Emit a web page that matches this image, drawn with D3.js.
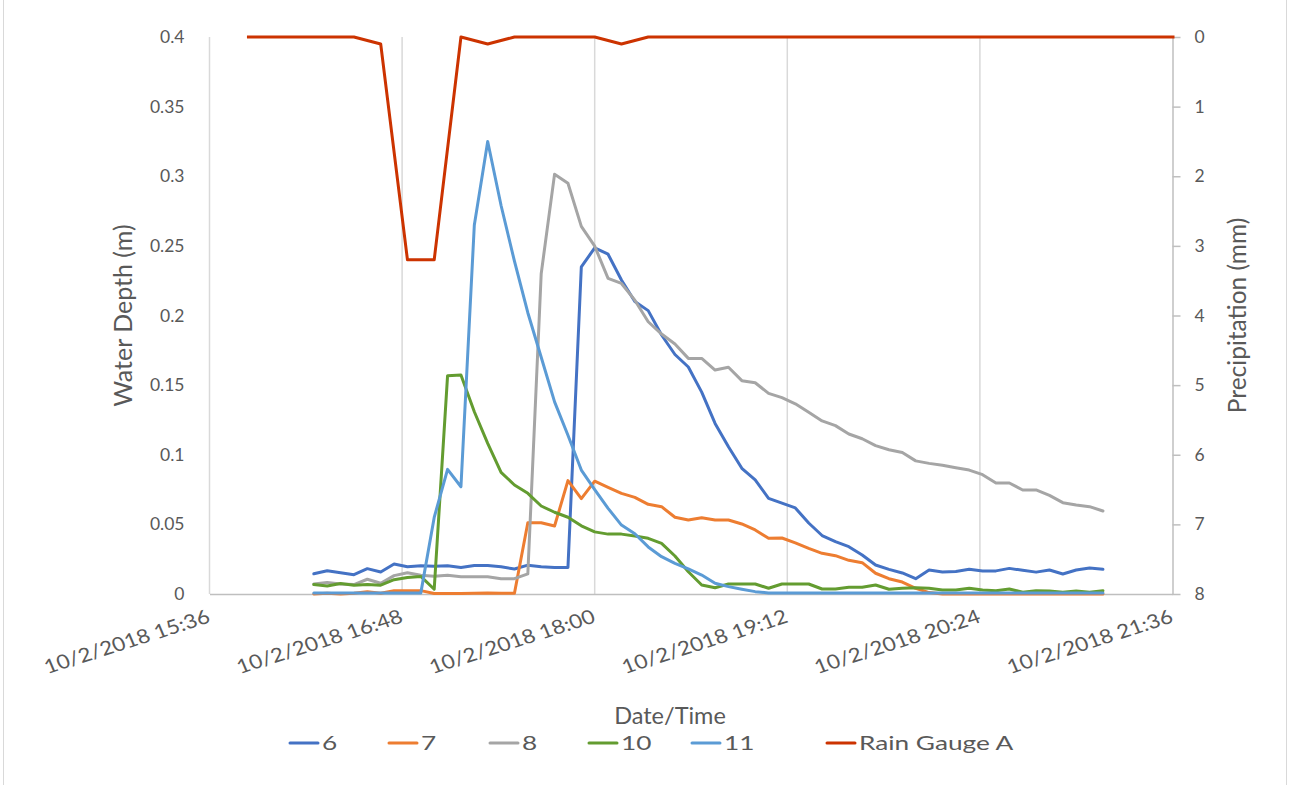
<!DOCTYPE html>
<html>
<head>
<meta charset="utf-8">
<script src="https://cdn.jsdelivr.net/npm/d3@7"></script>
<style>
  html, body { margin: 0; padding: 0; background: #ffffff; }
  svg { display: block; font-family: Lato, "Open Sans", sans-serif; }
</style>
</head>
<body>
<svg id="chart" width="1289" height="785"></svg>
<script>
// ---- data ----------------------------------------------------------------
const day = "2018-10-02";

// water level loggers, 5-minute readings
const depthTimes = [
  "16:15","16:20","16:25","16:30","16:35","16:40","16:45","16:50","16:55","17:00",
  "17:05","17:10","17:15","17:20","17:25","17:30","17:35","17:40","17:45","17:50",
  "17:55","18:00","18:05","18:10","18:15","18:20","18:25","18:30","18:35","18:40",
  "18:45","18:50","18:55","19:00","19:05","19:10","19:15","19:20","19:25","19:30",
  "19:35","19:40","19:45","19:50","19:55","20:00","20:05","20:10","20:15","20:20",
  "20:25","20:30","20:35","20:40","20:45","20:50","20:55","21:00","21:05","21:10"
];

const depth6 = [
  0.0145,0.0167,0.0153,0.0139,0.0182,0.0158,0.0215,0.0196,0.0203,0.0200,
  0.0203,0.0190,0.0205,0.0204,0.0195,0.0180,0.0207,0.0196,0.0190,0.0190,
  0.2350,0.2485,0.2440,0.2255,0.2100,0.2035,0.1860,0.1720,0.1630,0.1450,
  0.1225,0.1058,0.0903,0.0819,0.0687,0.0653,0.0618,0.0510,0.0420,0.0376,
  0.0340,0.0280,0.0208,0.0177,0.0151,0.0110,0.0172,0.0158,0.0162,0.0177,
  0.0166,0.0166,0.0184,0.0170,0.0157,0.0172,0.0144,0.0172,0.0187,0.0177
];

const depth7 = [
  0.0000,0.0005,0.0000,0.0005,0.0017,0.0005,0.0024,0.0024,0.0024,0.0003,
  0.0003,0.0003,0.0005,0.0008,0.0005,0.0005,0.0512,0.0512,0.0488,0.0814,
  0.0685,0.0810,0.0766,0.0723,0.0694,0.0644,0.0627,0.0551,0.0531,0.0548,
  0.0531,0.0531,0.0503,0.0460,0.0400,0.0402,0.0367,0.0328,0.0292,0.0275,
  0.0242,0.0225,0.0149,0.0110,0.0086,0.0041,0.0010,0.0000,0.0000,0.0000,
  0.0000,0.0000,0.0000,0.0000,0.0000,0.0000,0.0000,0.0000,0.0000,0.0000
];

const depth8 = [
  0.0071,0.0083,0.0072,0.0068,0.0106,0.0077,0.0132,0.0153,0.0134,0.0128,
  0.0134,0.0124,0.0124,0.0124,0.0110,0.0110,0.0144,0.2300,0.3015,0.2950,
  0.2640,0.2498,0.2267,0.2230,0.2110,0.1955,0.1867,0.1795,0.1692,0.1692,
  0.1608,0.1628,0.1532,0.1517,0.1441,0.1410,0.1366,0.1305,0.1243,0.1209,
  0.1149,0.1115,0.1066,0.1036,0.1016,0.0956,0.0938,0.0925,0.0907,0.0890,
  0.0857,0.0797,0.0797,0.0747,0.0747,0.0708,0.0656,0.0639,0.0627,0.0596
];

const depth10 = [
  0.0068,0.0057,0.0075,0.0063,0.0068,0.0063,0.0103,0.0118,0.0126,0.0034,
  0.1568,0.1572,0.1309,0.1082,0.0874,0.0783,0.0723,0.0632,0.0587,0.0551,
  0.0490,0.0446,0.0430,0.0430,0.0416,0.0400,0.0364,0.0273,0.0160,0.0065,
  0.0045,0.0072,0.0072,0.0072,0.0041,0.0072,0.0071,0.0072,0.0036,0.0036,
  0.0048,0.0048,0.0065,0.0034,0.0041,0.0045,0.0041,0.0029,0.0029,0.0041,
  0.0029,0.0024,0.0036,0.0012,0.0024,0.0022,0.0012,0.0022,0.0012,0.0024
];

const depth11 = [
  0.0008,0.0008,0.0008,0.0008,0.0008,0.0008,0.0008,0.0008,0.0008,0.0550,
  0.0895,0.0770,0.2650,0.3250,0.2790,0.2390,0.2020,0.1700,0.1380,0.1140,
  0.0890,0.0750,0.0615,0.0495,0.0433,0.0338,0.0268,0.0220,0.0180,0.0136,
  0.0077,0.0053,0.0034,0.0017,0.0008,0.0008,0.0008,0.0008,0.0008,0.0008,
  0.0008,0.0008,0.0008,0.0008,0.0008,0.0008,0.0008,0.0008,0.0008,0.0008,
  0.0008,0.0008,0.0008,0.0008,0.0008,0.0008,0.0008,0.0008,0.0008,0.0008
];

// rain gauge, 10-minute totals (mm)
const rainTimes = [
  "15:50","16:00","16:10","16:20","16:30","16:40","16:50","17:00","17:10","17:20",
  "17:30","17:40","17:50","18:00","18:10","18:20","18:30","18:40","18:50","19:00",
  "19:10","19:20","19:30","19:40","19:50","20:00","20:10","20:20","20:30","20:40",
  "20:50","21:00","21:10","21:20","21:30","21:40"
];
const rainA = [
  0,0,0,0,0,0.1,3.2,3.2,0,0.1,
  0,0,0,0,0.1,0,0,0,0,0,
  0,0,0,0,0,0,0,0,0,0,
  0,0,0,0,0,0
];

const seriesNames = ["6", "7", "8", "10", "11"];
const rainName = "Rain Gauge A";

const xTickTimes = ["15:36","16:48","18:00","19:12","20:24","21:36"];
const depthTicks = [0, 0.05, 0.1, 0.15, 0.2, 0.25, 0.3, 0.35, 0.4];
const rainTicks = [0, 1, 2, 3, 4, 5, 6, 7, 8];

// ---- layout & style --------------------------------------------------------
const W = 1289, H = 785;
const plot = { left: 209.5, right: 1172.5, top: 37, bottom: 594 };
const colors = {
  "6": "#4472C4", "7": "#ED7D31", "8": "#A5A5A5",
  "10": "#639C30", "11": "#5B9BD5", rain: "#CC3300"
};
const textColor = "#595959";
const gridColor = "#D9D9D9";
const axisColor = "#BFBFBF";
const lineW = 3;

const parse = d3.timeParse("%Y-%m-%d %H:%M");
const toDate = t => parse(`${day} ${t}`);
const fmt = d3.timeFormat("%-m/%-d/%Y %H:%M");

const svg = d3.select("#chart");
svg.append("rect").attr("x", 0).attr("y", 0).attr("width", W).attr("height", H).attr("fill", "#fff");
svg.append("rect")
  .attr("x", 3.5).attr("y", -2).attr("width", W - 6).attr("height", H + 4)
  .attr("fill", "none").attr("stroke", "#D9D9D9").attr("stroke-width", 1);

const x = d3.scaleTime()
  .domain([toDate(xTickTimes[0]), toDate(xTickTimes[xTickTimes.length - 1])])
  .range([plot.left, plot.right]);
const yL = d3.scaleLinear().domain([0, 0.4]).range([plot.bottom, plot.top]);
const yR = d3.scaleLinear().domain([0, 8]).range([plot.top, plot.bottom]);

// vertical gridlines
svg.append("g").selectAll("line")
  .data(xTickTimes.slice(0, -1).map(toDate))
  .join("line")
  .attr("x1", d => x(d)).attr("x2", d => x(d))
  .attr("y1", plot.top).attr("y2", plot.bottom)
  .attr("stroke", gridColor).attr("stroke-width", 1.5);

// left axis labels (no axis line)
const gL = svg.append("g").attr("transform", `translate(${plot.left},0)`)
  .call(d3.axisLeft(yL).tickValues(depthTicks).tickSize(0).tickPadding(25)
        .tickFormat(d => String(d)));
gL.select(".domain").remove();
gL.selectAll("text").attr("fill", textColor).style("font-size", "17.5px")
  .style("font-family", "Lato, sans-serif");

// right axis
const gR = svg.append("g").attr("transform", `translate(${plot.right},0)`)
  .call(d3.axisRight(yR).tickValues(rainTicks).tickSizeInner(8).tickSizeOuter(0).tickPadding(14));
gR.select(".domain").attr("stroke", axisColor).attr("stroke-width", 1.5);
gR.selectAll(".tick line").attr("stroke", axisColor).attr("stroke-width", 1.5);
gR.selectAll("text").attr("fill", textColor).style("font-size", "17.5px")
  .style("font-family", "Lato, sans-serif");

// bottom axis
const gB = svg.append("g").attr("transform", `translate(0,${plot.bottom})`)
  .call(d3.axisBottom(x).tickValues(xTickTimes.map(toDate)).tickSize(0).tickFormat(""));
gB.select(".domain").attr("stroke", axisColor).attr("stroke-width", 1.5);

svg.append("g").selectAll("text")
  .data(xTickTimes.map(toDate))
  .join("text")
  .attr("transform", d => `translate(${x(d) + 2},${plot.bottom + 28}) scale(1.15,1) rotate(-20)`)
  .attr("text-anchor", "end")
  .attr("fill", textColor)
  .style("font-size", "19.5px")
  .text(d => fmt(d));

// axis titles
svg.append("text")
  .attr("transform", `translate(132,${(plot.top + plot.bottom) / 2}) rotate(-90)`)
  .attr("text-anchor", "middle").attr("fill", textColor).style("font-size", "25px")
  .text("Water Depth (m)");
svg.append("text")
  .attr("transform", `translate(1246,${(plot.top + plot.bottom) / 2}) rotate(-90)`)
  .attr("text-anchor", "middle").attr("fill", textColor).style("font-size", "24.5px")
  .text("Precipitation (mm)");
svg.append("text")
  .attr("x", 670).attr("y", 724)
  .attr("text-anchor", "middle").attr("fill", textColor).style("font-size", "23.5px")
  .text("Date/Time");

// series lines
svg.append("clipPath").attr("id", "plotClip").append("rect")
  .attr("x", plot.left).attr("y", plot.top - 5)
  .attr("width", plot.right - plot.left + 2).attr("height", plot.bottom - plot.top + 10);

const depthSeries = [
  { name: "6", values: depth6 },
  { name: "7", values: depth7 },
  { name: "8", values: depth8 },
  { name: "10", values: depth10 },
  { name: "11", values: depth11 }
];

const lineL = d3.line().x(d => x(d.t)).y(d => yL(d.v));
const lineR = d3.line().x(d => x(d.t)).y(d => yR(d.v));

const gLines = svg.append("g").attr("clip-path", "url(#plotClip)");
depthSeries.forEach(s => {
  const pts = depthTimes.map((t, i) => ({ t: toDate(t), v: s.values[i] }));
  gLines.append("path").datum(pts)
    .attr("d", lineL)
    .attr("fill", "none").attr("stroke", colors[s.name])
    .attr("stroke-width", lineW).attr("stroke-linejoin", "round").attr("stroke-linecap", "round");
});
gLines.append("path")
  .datum(rainTimes.map((t, i) => ({ t: toDate(t), v: rainA[i] })))
  .attr("d", lineR)
  .attr("fill", "none").attr("stroke", colors.rain)
  .attr("stroke-width", lineW).attr("stroke-linejoin", "round");

// legend
const legendItems = seriesNames.map(n => ({ name: n, color: colors[n] }))
  .concat([{ name: rainName, color: colors.rain }]);
const legendX = [290, 389, 490, 589, 692, 827];
const legend = svg.append("g");
legendItems.forEach((it, i) => {
  const g = legend.append("g").attr("transform", `translate(${legendX[i]},743)`);
  g.append("line").attr("x1", 0).attr("x2", 28).attr("y1", 0).attr("y2", 0)
    .attr("stroke", it.color).attr("stroke-width", lineW).attr("stroke-linecap", "round");
  g.append("text").attr("transform", "translate(32,7) scale(1.38,1)")
    .attr("fill", textColor).style("font-size", "19px").text(it.name);
});
</script>
</body>
</html>
